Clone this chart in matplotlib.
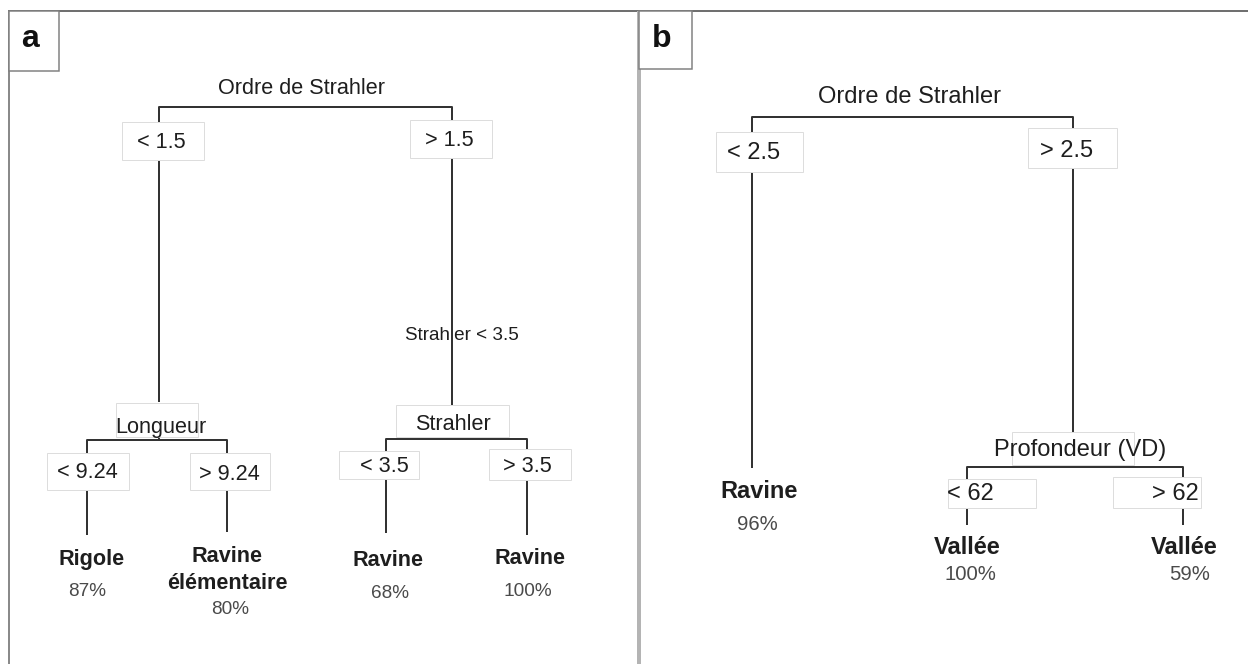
#! /usr/bin/env python

# Two classification trees (panel a and b), drawn on one pixel-scaled axes

import matplotlib
matplotlib.use("Agg")
import matplotlib.pyplot as plt
from matplotlib.patches import Rectangle

# Tree content, panel a
SplitsA = ["Ordre de Strahler", "Longueur", "Strahler"]
ThreshA = [1.5, 9.24, 3.5]
EdgeNoteA = "Strahler < 3.5"
LeavesA = ["Rigole", "Ravine\nélémentaire", "Ravine", "Ravine"]
PctA = [87, 80, 68, 100]

# Tree content, panel b
SplitsB = ["Ordre de Strahler", "Profondeur (VD)"]
ThreshB = [2.5, 62]
LeavesB = ["Ravine", "Vallée", "Vallée"]
PctB = [96, 100, 59]

PanelLabels = ["a", "b"]

# Figure size in pixels
W, H = 1248, 664
Px = 0.72   # points per pixel at dpi 100

plt.rcParams["font.family"] = ["Liberation Sans", "DejaVu Sans"]

fig = plt.figure(figsize=(W / 100, H / 100), dpi=100)
ax = fig.add_axes([0, 0, 1, 1])
ax.set_xlim(0, W)
ax.set_ylim(H, 0)
ax.axis("off")

LineCol = "#333333"
BoxEdge = "#dddddd"
TextCol = "#1e1e1e"
PctCol = "#4a4a4a"


def line(xs, ys, col=LineCol, lw=2.0, z=2):
    ax.plot(xs, ys, color=col, lw=lw * Px, solid_capstyle="butt", zorder=z)


def box(x0, x1, y0, y1, text, tx, ty, fs):
    ax.add_patch(Rectangle((x0, y0), x1 - x0, y1 - y0, facecolor="white",
                           edgecolor=BoxEdge, lw=1.0 * Px, zorder=3))
    ax.text(tx, ty, text, ha="center", va="center", fontsize=fs,
            color=TextCol, zorder=4)


def leaf(x, y, name, px, py, pct, fs, fsp):
    ax.text(x, y, name, ha="center", va="center", fontsize=fs,
            fontweight="bold", color=TextCol, linespacing=1.4, zorder=4)
    ax.text(px, py, "%d%%" % pct, ha="center", va="center", fontsize=fsp,
            color=PctCol, zorder=4)


def lt(t):
    return "< %g" % t


def gt(t):
    return "> %g" % t


# ---- Frames ----
line([8, W], [11, 11], col="#707070", lw=2.0, z=5)
line([9, 9], [11, H], col="#8a8a8a", lw=2.0, z=5)
line([639, 639], [11, H], col="#b4b4b4", lw=4.0, z=5)
ax.add_patch(Rectangle((9, 11), 50, 60, facecolor="white",
                       edgecolor="#808080", lw=1.5 * Px, zorder=5))
ax.add_patch(Rectangle((639, 11), 53, 58, facecolor="white",
                       edgecolor="#808080", lw=1.5 * Px, zorder=5))
ax.text(30, 47, PanelLabels[0], ha="center", va="baseline", fontsize=23,
        fontweight="bold", color="#111111", zorder=6)
ax.text(662, 47, PanelLabels[1], ha="center", va="baseline", fontsize=23,
        fontweight="bold", color="#111111", zorder=6)

# ---- Panel a ----
FsA = 15.6
ax.text(301, 89, SplitsA[0], ha="center", va="center", fontsize=FsA, color=TextCol)
line([159, 159, 452, 452], [402, 107, 107, 407])
box(122, 204, 122, 160, lt(ThreshA[0]), 161, 143, FsA)
box(410, 492, 120, 158, gt(ThreshA[0]), 449, 141, FsA)

# note on the right branch, the line runs over it
ax.text(462, 336, EdgeNoteA, ha="center", va="center", fontsize=13.6,
        color=TextCol, zorder=1)

# Longueur split
box(116, 198, 403, 437, "", 0, 0, FsA)
ax.text(161, 427, SplitsA[1], ha="center", va="center", fontsize=FsA,
        color=TextCol, zorder=4)
line([159, 159], [437, 440])
line([87, 87, 227, 227], [535, 440, 440, 532])
box(47, 129, 453, 490, lt(ThreshA[1]), 87, 473, FsA)
box(190, 270, 453, 490, gt(ThreshA[1]), 229, 474, FsA)
leaf(92, 559, LeavesA[0], 87, 592, PctA[0], FsA, 13.7)
leaf(227, 570, LeavesA[1], 230, 610, PctA[1], FsA, 13.7)

# Strahler split
box(396, 509, 405, 437, SplitsA[2], 453, 425, FsA)
line([386, 386, 527, 527], [533, 439, 439, 535])
box(339, 419, 451, 479, lt(ThreshA[2]), 384, 466, FsA)
box(489, 571, 449, 480, gt(ThreshA[2]), 527, 467, FsA)
leaf(388, 560, LeavesA[2], 390, 594, PctA[2], FsA, 13.7)
leaf(530, 558, LeavesA[3], 528, 592, PctA[3], FsA, 13.7)

# ---- Panel b ----
FsB = 17.0
ax.text(910, 97, SplitsB[0], ha="center", va="center", fontsize=FsB, color=TextCol)
line([752, 752, 1073, 1073], [468, 117, 117, 432])
box(716, 803, 132, 172, lt(ThreshB[0]), 754, 153, FsB)
box(1028, 1117, 128, 168, gt(ThreshB[0]), 1067, 151, FsB)
leaf(759, 491, LeavesB[0], 757, 524, PctB[0], FsB, 14.7)

# Profondeur split
box(1012, 1134, 432, 465, "", 0, 0, FsB)
ax.text(1080, 450, SplitsB[1], ha="center", va="center", fontsize=FsB,
        color=TextCol, zorder=4)
line([1073, 1073], [465, 467])
line([967, 967, 1183, 1183], [525, 467, 467, 525])
box(948, 1036, 479, 508, lt(ThreshB[1]), 970, 494, FsB)
box(1113, 1201, 477, 508, gt(ThreshB[1]), 1175, 494, FsB)
leaf(967, 548, LeavesB[1], 970, 574, PctB[1], FsB, 14.7)
leaf(1184, 548, LeavesB[2], 1190, 574, PctB[2], FsB, 14.7)

fig.savefig("out.png", dpi=100)
